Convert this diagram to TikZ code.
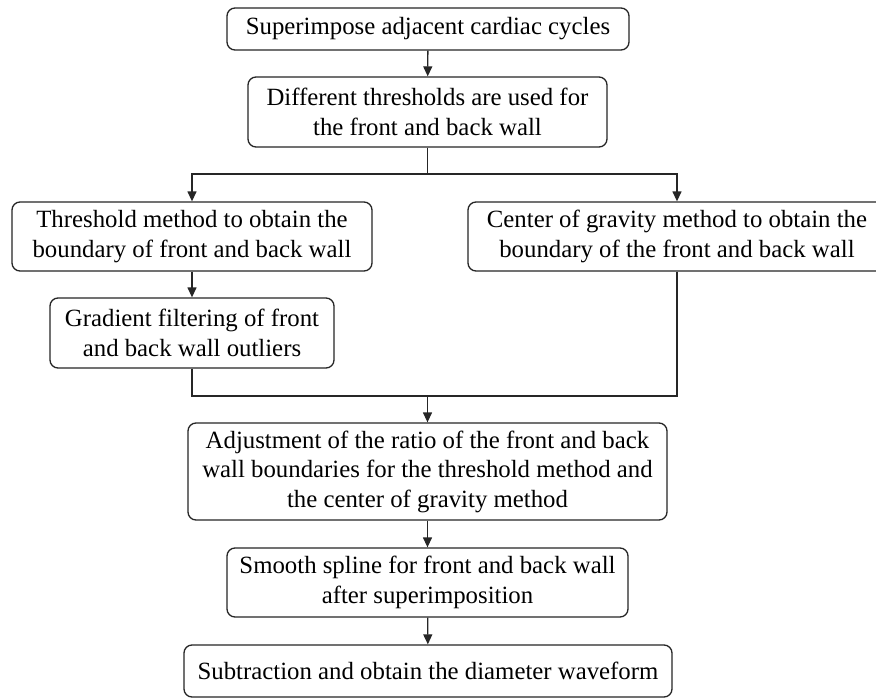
\documentclass[tikz,border=0pt]{standalone}
\usepackage{fontspec}
\setmainfont{Liberation Serif}
\usetikzlibrary{arrows.meta}
\tikzset{
  box/.style={draw=black!85, line width=1.3pt, rounded corners=8pt, inner sep=0pt, align=center, font=\fontsize{24.8}{29.5}\selectfont},
  arr/.style={-{Triangle[length=10pt,width=9pt]}},
  conn/.style={draw=black!85, line width=1.3pt}
}
\begin{document}
\begin{tikzpicture}[x=1pt,y=-1pt]
\clip (0,0) rectangle (876,699);
\fill[white] (0,0) rectangle (876,699);
\node[box, minimum width=402pt, minimum height=42pt] (b1) at (428,29) {Superimpose adjacent cardiac cycles};
\node[box, minimum width=359pt, minimum height=70pt] (b2) at (427.5,112) {Different thresholds are used for\\the front and back wall};
\node[box, minimum width=360pt, minimum height=69pt] (b3) at (192,236.5) {Threshold method to obtain the\\boundary of front and back wall};
\node[box, minimum width=418pt, minimum height=69pt] (bR) at (677,236.5) {Center of gravity method to obtain the\\boundary of the front and back wall};
\node[box, minimum width=284pt, minimum height=70pt] (b4) at (192,333) {Gradient filtering of front\\and back wall outliers};
\node[box, minimum width=479pt, minimum height=97pt] (b6) at (427.5,471.5) {Adjustment of the ratio of the front and back\\wall boundaries for the threshold method and\\the center of gravity method};
\node[box, minimum width=401pt, minimum height=69pt] (b7) at (427.5,582.5) {Smooth spline for front and back wall\\after superimposition};
\node[box, minimum width=488pt, minimum height=52pt] (b8) at (428,671) {Subtraction and obtain the diameter waveform};
\coordinate (j1) at (427.5,174);
\coordinate (j2) at (427.5,396);
\draw[conn, arr] (b1) -- (b2);
\draw[conn] (b2) -- (j1);
\draw[conn, arr] (j1) -| (b3);
\draw[conn, arr] (j1) -| (bR);
\draw[conn, arr] (b3) -- (b4);
\draw[conn] (b4) |- (j2);
\draw[conn] (bR) |- (j2);
\draw[conn, arr] (j2) -- (b6);
\draw[conn, arr] (b6) -- (b7);
\draw[conn, arr] (b7) -- (b8);
\end{tikzpicture}
\end{document}
